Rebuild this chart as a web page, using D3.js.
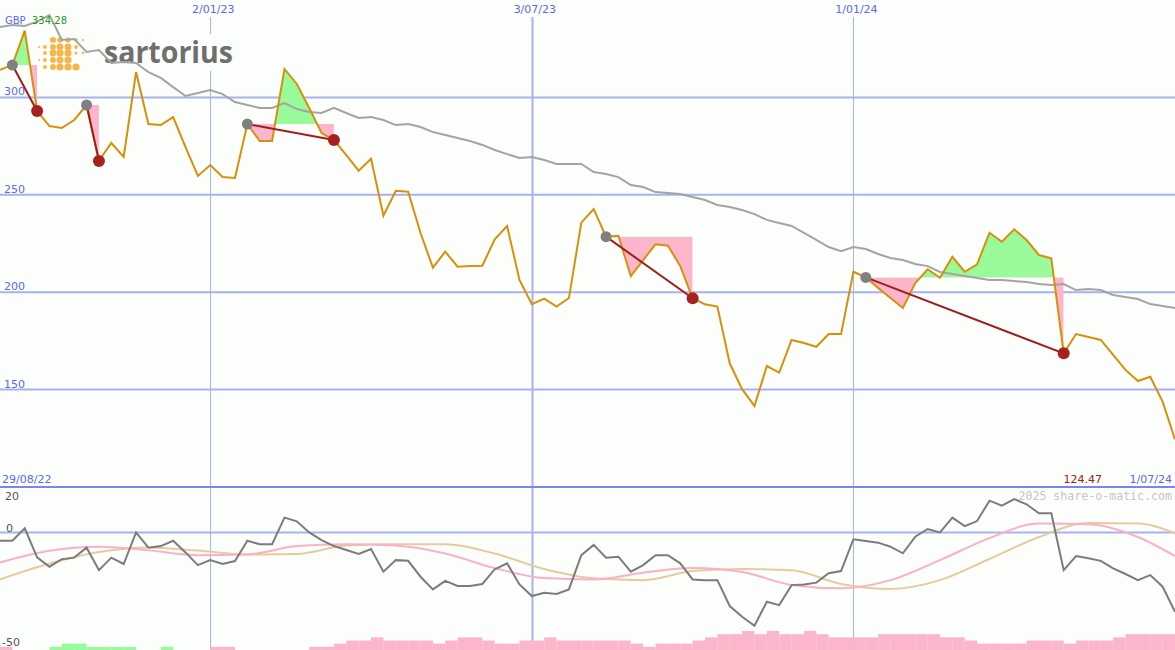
<!DOCTYPE html>
<html><head><meta charset="utf-8">
<script src="https://cdn.jsdelivr.net/npm/d3@7"></script>
<style>html,body{margin:0;padding:0;background:#fcfefc;} svg{display:block;}</style>
</head><body><svg id="c" width="1175" height="650"></svg>
<script>
// ---------- DATA ----------
const startDate = new Date(2022, 8, 5);
const price = [314.1, 316.6, 334.28, 293.0, 285.3, 284.3, 288.4, 296.1, 267.4, 276.6,
 269.4, 313.0, 286.3, 285.8, 289.9, 274.5, 259.7, 265.3, 259.1, 258.6,
 286.3, 277.6, 277.6, 314.6, 306.9, 294.6, 281.7, 278.1, 270.4, 262.4,
 268.5, 239.3, 252.1, 251.6, 230.4, 212.6, 220.8, 213.1, 213.4, 213.6,
 227.2, 234.0, 206.3, 193.9, 196.7, 192.6, 197.0, 235.7, 242.7, 228.5,
 228.9, 208.3, 216.5, 224.6, 223.9, 213.4, 196.9, 193.8, 192.6, 163.5,
 150.2, 141.6, 162.1, 158.7, 175.5, 173.9, 172.0, 178.5, 178.5, 210.5,
 207.6, 202.2, 197.0, 191.9, 204.7, 211.8, 207.4, 218.2, 210.5, 214.3,
 230.5, 225.9, 232.3, 226.8, 219.1, 217.4, 168.6, 178.5, 177.0, 175.5,
 167.8, 160.1, 154.4, 156.6, 143.8, 124.47];
const movingAvg = [336.1, 337.2, 336.7, 338.9, 342.3, 329.5, 330.0, 323.3, 324.3, 317.7,
 318.2, 317.7, 313.0, 310.0, 305.3, 300.7, 302.3, 303.8, 301.7, 297.6,
 296.1, 294.6, 294.6, 297.1, 294.0, 292.5, 292.0, 294.6, 292.0, 289.4,
 289.9, 288.4, 285.8, 286.3, 284.8, 282.2, 280.7, 279.2, 277.6, 275.6,
 273.0, 270.9, 268.9, 269.4, 267.9, 265.8, 265.8, 265.8, 261.7, 260.7,
 259.1, 255.0, 254.0, 251.4, 250.9, 250.4, 248.9, 247.3, 244.8, 243.7,
 242.2, 240.1, 237.1, 235.5, 234.0, 230.4, 226.8, 223.2, 221.1, 223.2,
 222.2, 219.6, 217.6, 216.5, 214.5, 213.4, 210.4, 209.3, 208.3, 207.3,
 206.3, 206.3, 205.7, 205.2, 204.2, 203.7, 204.2, 201.1, 201.6, 201.1,
 198.6, 197.5, 196.5, 193.9, 192.9, 191.9];
const momentum = [-3.65, -3.65, 1.8, -11.0, -15.1, -11.8, -11.1, -6.7, -16.6, -11.1,
 -13.9, 0.0, -6.7, -6.0, -3.65, -8.8, -14.4, -12.2, -13.9, -12.6,
 -3.65, -5.2, -5.2, 6.5, 4.9, 0.0, -3.35, -6.0, -7.75, -9.5,
 -7.3, -17.3, -12.2, -12.5, -19.5, -25.1, -21.3, -23.6, -23.6, -22.7,
 -16.2, -13.6, -22.9, -28.0, -26.6, -27.1, -25.1, -10.0, -5.5, -11.1,
 -10.7, -17.3, -14.4, -10.0, -10.0, -13.6, -20.7, -21.0, -21.0, -32.4,
 -37.1, -41.1, -30.5, -32.0, -23.2, -22.9, -22.1, -18.0, -17.0, -3.0,
 -3.8, -4.5, -6.3, -9.2, -1.9, 1.5, 0.0, 6.5, 2.8, 5.0,
 14.0, 11.8, 14.7, 12.4, 8.4, 8.4, -16.6, -10.4, -11.4, -12.5,
 -15.8, -18.3, -21.0, -18.8, -23.9, -34.9];
const histLevel = [-1, 0, 0, 0, 1, 2, 2, 1, 1, 1,
 1, 0, 0, 1, 0, 0, 0, -1, -1, 0,
 0, 0, 0, 0, 0, -1, -1, -2, -3, -3,
 -4, -3, -3, -3, -3, -2, -3, -4, -4, -3,
 -2, -2, -3, -3, -4, -3, -3, -3, -3, -3,
 -3, -2, -1, -2, -2, -2, -3, -4, -5, -5,
 -6, -5, -6, -5, -5, -6, -5, -4, -4, -4,
 -4, -5, -5, -5, -5, -5, -4, -4, -3, -2,
 -2, -2, -2, -3, -3, -3, -2, -3, -3, -3,
 -4, -5, -5, -5, -5, 0];
const smoothIdx = [0, 4, 8, 12, 16, 20, 24, 28, 32, 36, 40, 44, 48, 52, 56, 60, 64, 68, 72, 76, 80, 84, 88, 92, 95];
const smoothPink = [-13.2, -8.1, -6.3, -7.9, -10.0, -9.7, -6.0, -5.2, -5.8, -9.3, -15.7, -20.1, -20.7, -17.7, -15.7, -17.4, -23.1, -24.6, -21.0, -12.2, -2.5, 3.9, 3.6, -2.0, -10.4];
const smoothTan = [-20.7, -13.7, -8.6, -6.6, -8.0, -9.7, -9.5, -5.8, -5.2, -5.2, -9.3, -16.1, -20.2, -21.0, -17.0, -16.1, -16.6, -22.7, -24.9, -21.0, -11.7, -2.0, 4.1, 3.9, -0.4];
const tradeStart = [1, 7, 20, 49, 70];
const tradeEnd = [3, 8, 27, 56, 86];
const mainTicks = [300, 250, 200, 150];
const lowerTicks = [20, 0, -50];
const dateTicks = [new Date(2023, 0, 2), new Date(2023, 6, 3), new Date(2024, 0, 1)];
const dateTickLabels = ["2/01/23", "3/07/23", "1/01/24"];
const dateTickWidths = [1, 2, 1];
const startLabel = "29/08/22", endLabel = "1/07/24";
const currency = "GBP", highLabel = "334.28", lastLabel = "124.47";
const logoDots = [[53,40,3.0],[60,40,2.8],[68,40,2.6],[76,40,1.8],[83,40,1.1],
 [39,47,1.1],[45,47,1.9],[53,47,2.9],[60,47,3.4],[68,47,3.4],[76,47,1.9],
 [45,53,1.9],[53,53,3.4],[60,53,3.6],[68,53,3.6],[76,53,1.6],[83,53,1.3],
 [39,60,1.1],[45,60,1.9],[53,60,2.9],[60,60,3.5],[68,60,3.6],
 [45,67,1.9],[53,67,2.9],[60,67,3.5],[68,67,3.6],[76,67,3.6]];

// ---------- SETUP ----------
const W = 1175, H = 650;
const svg = d3.select("#c");
const bg = "#fcfefc";
svg.append("rect").attr("width", W).attr("height", H).attr("fill", bg);
const dates = price.map((_, i) => d3.timeDay.offset(startDate, 7 * i));
const x = d3.scaleTime().domain([dates[0], dates[dates.length - 1]]).range([0, W]);
const y = d3.scaleLinear().domain([100, 350]).range([487, 0]);
const yl = d3.scaleLinear().domain([-50, 20]).range([646, 487]);
const hy = d3.scaleLinear().domain([0, 6]).range([650, 631]);
const gridC = "#a6b2f2", labC = "#5a6af0", font = "DejaVu Sans";

// horizontal grid main
mainTicks.forEach(t => {
  svg.append("line").attr("x1", 0).attr("x2", W).attr("y1", y(t)).attr("y2", y(t))
    .attr("stroke", gridC).attr("stroke-width", 2);
  svg.append("text").attr("x", 4).attr("y", y(t) - 2).text(t)
    .attr("font-family", font).attr("font-size", 11).attr("fill", labC);
});
// vertical date lines
dateTicks.forEach((d, k) => {
  svg.append("line").attr("x1", Math.round(x(d)) + 0.5).attr("x2", Math.round(x(d)) + 0.5)
    .attr("y1", 17).attr("y2", H).attr("stroke", gridC).attr("stroke-width", dateTickWidths[k]);
  svg.append("text").attr("x", x(d) + 3).attr("y", 13).attr("text-anchor", "middle")
    .text(dateTickLabels[k]).attr("font-family", font).attr("font-size", 11).attr("fill", labC);
});
// lower zero line + divider
svg.append("line").attr("x1", 0).attr("x2", W).attr("y1", yl(0)).attr("y2", yl(0))
  .attr("stroke", gridC).attr("stroke-width", 2);
svg.append("line").attr("x1", 0).attr("x2", W).attr("y1", 487).attr("y2", 487)
  .attr("stroke", "#7886ee").attr("stroke-width", 2);

// logo
svg.append("rect").attr("x", 32).attr("y", 34).attr("width", 208).attr("height", 37).attr("fill", bg);
svg.selectAll(".ld").data(logoDots).join("circle").attr("cx", d => d[0]).attr("cy", d => d[1])
  .attr("r", d => d[2]).attr("fill", "#f7b54a");
svg.append("text").attr("x", 104).attr("y", 63).text("sartorius")
  .attr("font-family", "Open Sans").attr("font-weight", 700).attr("font-size", 31)
  .attr("textLength", 129).attr("lengthAdjust", "spacingAndGlyphs").attr("fill", "#6f6f6f");

// trade fills
const defs = svg.append("defs");
tradeStart.forEach((s, k) => {
  const e = tradeEnd[k];
  const base = price[s];
  const seg = d3.range(s, e + 1);
  const area = d3.area().x(i => x(dates[i])).y0(y(base)).y1(i => y(price[i]));
  const x0 = x(dates[s]), x1 = x(dates[e]);
  defs.append("clipPath").attr("id", "up" + k).append("rect")
    .attr("x", x0).attr("width", x1 - x0).attr("y", 0).attr("height", y(base));
  defs.append("clipPath").attr("id", "dn" + k).append("rect")
    .attr("x", x0).attr("width", x1 - x0).attr("y", y(base)).attr("height", 487 - y(base));
  svg.append("path").attr("d", area(seg)).attr("fill", "#98fa98").attr("clip-path", `url(#up${k})`);
  svg.append("path").attr("d", area(seg)).attr("fill", "#fbb6cb").attr("clip-path", `url(#dn${k})`);
});

// moving average + price
const idx = d3.range(price.length);
svg.append("path").attr("d", d3.line().x(i => x(dates[i])).y(i => y(movingAvg[i]))(idx))
  .attr("fill", "none").attr("stroke", "#a4a4a4").attr("stroke-width", 2);
svg.append("path").attr("d", d3.line().x(i => x(dates[i])).y(i => y(price[i]))(idx))
  .attr("fill", "none").attr("stroke", "#d8900c").attr("stroke-width", 2);

// trade markers
tradeStart.forEach((s, k) => {
  const e = tradeEnd[k];
  svg.append("line").attr("x1", x(dates[s])).attr("y1", y(price[s]))
    .attr("x2", x(dates[e])).attr("y2", y(price[e])).attr("stroke", "#a31c1c").attr("stroke-width", 2);
  svg.append("circle").attr("cx", x(dates[s])).attr("cy", y(price[s])).attr("r", 5.5).attr("fill", "#808080");
  svg.append("circle").attr("cx", x(dates[e])).attr("cy", y(price[e])).attr("r", 6).attr("fill", "#a82020");
});

// lower panel: histogram
svg.selectAll(".hb").data(idx.slice(0, -1).filter(i => histLevel[i] !== 0)).join("rect")
  .attr("x", i => x(dates[i])).attr("width", i => x(dates[i + 1]) - x(dates[i]))
  .attr("y", i => hy(Math.abs(histLevel[i]))).attr("height", i => 650 - hy(Math.abs(histLevel[i])))
  .attr("fill", i => histLevel[i] > 0 ? "#98fa98" : "#fbb6cb");

const sIdx = d3.range(smoothIdx.length);
svg.append("path").attr("d", d3.line().curve(d3.curveMonotoneX)
  .x(k => x(dates[smoothIdx[k]])).y(k => yl(smoothTan[k]))(sIdx))
  .attr("fill", "none").attr("stroke", "#e6cc9c").attr("stroke-width", 2);
svg.append("path").attr("d", d3.line().curve(d3.curveMonotoneX)
  .x(k => x(dates[smoothIdx[k]])).y(k => yl(smoothPink[k]))(sIdx))
  .attr("fill", "none").attr("stroke", "#fbb0c8").attr("stroke-width", 2);
svg.append("path").attr("d", d3.line().x(i => x(dates[i])).y(i => yl(momentum[i]))(idx))
  .attr("fill", "none").attr("stroke", "#7c7c7c").attr("stroke-width", 2);

// lower labels (kept inside the panel)
lowerTicks.forEach(t => {
  svg.append("text").attr("x", t < 0 ? 2 : (t === 0 ? 6 : 5)).attr("y", Math.max(yl(t), 500)).text(t)
    .attr("font-family", font).attr("font-size", 11).attr("fill", "#555");
});

// texts
svg.append("text").attr("x", 5).attr("y", 24).text(currency)
  .attr("font-family", font).attr("font-size", 10).attr("fill", labC);
svg.append("text").attr("x", 32).attr("y", 24).text(highLabel)
  .attr("font-family", font).attr("font-size", 10).attr("fill", "#1c9a1c");
svg.append("text").attr("x", 2).attr("y", 483).text(startLabel)
  .attr("font-family", font).attr("font-size", 11).attr("fill", labC);
svg.append("text").attr("x", 1102).attr("y", 483).attr("text-anchor", "end").text(lastLabel)
  .attr("font-family", font).attr("font-size", 11).attr("fill", "#a02020");
svg.append("text").attr("x", 1172).attr("y", 483).attr("text-anchor", "end").text(endLabel)
  .attr("font-family", font).attr("font-size", 11).attr("fill", labC);
svg.append("text").attr("x", 1172).attr("y", 500).attr("text-anchor", "end").text("2025 share-o-matic.com")
  .attr("font-family", "DejaVu Sans Mono").attr("font-size", 11.6).attr("fill", "#c6c6c6");
</script></body></html>
